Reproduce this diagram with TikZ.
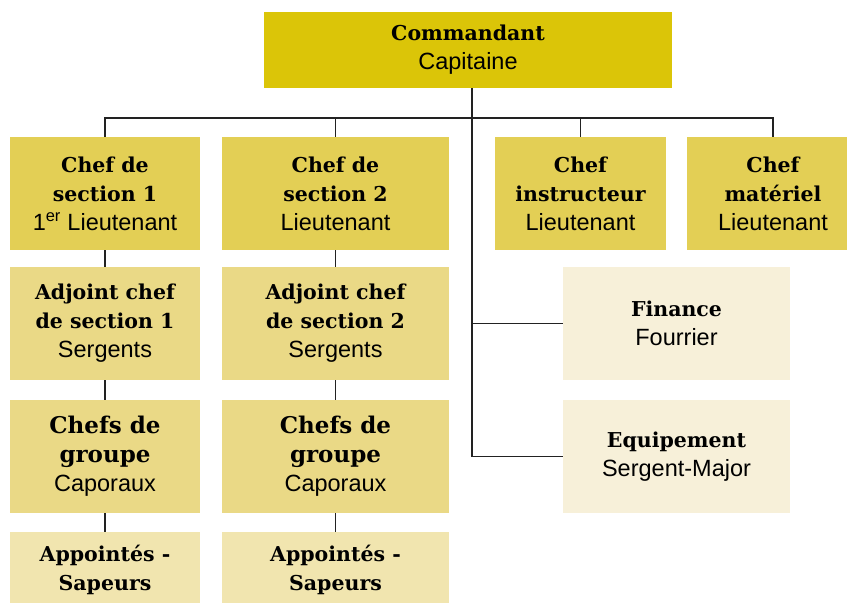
\documentclass[tikz,border=0pt]{standalone}
\usepackage{fontspec}
\setmainfont{Liberation Sans}
\newfontfamily\hdfont{DejaVu Serif}
\newcommand\hd[1]{{\hdfont\bfseries\fontsize{20.5}{29}\selectfont #1}}
\newcommand\hdl[1]{{\hdfont\bfseries\fontsize{23}{33}\selectfont #1}}
\definecolor{cA}{HTML}{DBC508}
\definecolor{cB}{HTML}{E3CF55}
\definecolor{cC}{HTML}{EAD986}
\definecolor{cD}{HTML}{F1E5AF}
\definecolor{cE}{HTML}{F7F0D9}
\definecolor{ln}{HTML}{222222}
\tikzset{
  box/.style={rectangle, inner sep=0pt, align=center, text=black,
    font=\fontsize{23.5}{29}\selectfont},
  conn/.style={draw=ln, line width=1.4pt}
}
\begin{document}
\begin{tikzpicture}[x=1pt,y=-1pt]
\useasboundingbox (0,0) rectangle (847,603);
\node[box, fill=cA, minimum width=408, minimum height=76] (cmd) at (468,50) {\hd{Commandant}\\Capitaine};
\node[box, fill=cB, minimum width=190, minimum height=113] (s1) at (105,193.5) {\hd{Chef de}\\\hd{section 1}\\1\textsuperscript{er} Lieutenant};
\node[box, fill=cB, minimum width=227, minimum height=113] (s2) at (335.5,193.5) {\hd{Chef de}\\\hd{section 2}\\Lieutenant};
\node[box, fill=cB, minimum width=171, minimum height=113] (ins) at (580.5,193.5) {\hd{Chef}\\\hd{instructeur}\\Lieutenant};
\node[box, fill=cB, minimum width=172, minimum height=113] (mat) at (773,193.5) {\hd{Chef}\\\hd{matériel}\\Lieutenant};
\node[box, fill=cC, minimum width=190, minimum height=113] (a1) at (105,323.5) {\hd{Adjoint chef}\\\hd{de section 1}\\Sergents};
\node[box, fill=cC, minimum width=227, minimum height=113] (a2) at (335.5,323.5) {\hd{Adjoint chef}\\\hd{de section 2}\\Sergents};
\node[box, fill=cC, minimum width=190, minimum height=113] (g1) at (105,456.5) {\hdl{Chefs de}\\\hdl{groupe}\\Caporaux};
\node[box, fill=cC, minimum width=227, minimum height=113] (g2) at (335.5,456.5) {\hdl{Chefs de}\\\hdl{groupe}\\Caporaux};
\node[box, fill=cD, minimum width=190, minimum height=76] (p1) at (105,570) {\hd{Appointés -}\\\hd{Sapeurs}};
\node[box, fill=cD, minimum width=227, minimum height=76] (p2) at (335.5,570) {\hd{Appointés -}\\\hd{Sapeurs}};
\node[box, fill=cE, minimum width=227, minimum height=113] (fin) at (676.5,323.5) {\hd{Finance}\\Fourrier};
\node[box, fill=cE, minimum width=227, minimum height=113] (equ) at (676.5,456.5) {\hd{Equipement}\\Sergent-Major};
\coordinate (hub) at (472,118);
\draw[conn] (hub |- cmd.south) -- (hub);
\draw[conn] (hub) -| (s1.north);
\draw[conn] (hub) -| (s2.north);
\draw[conn] (hub) -| (ins.north);
\draw[conn] (hub) -| (mat.north);
\draw[conn] (hub) |- (fin.west);
\draw[conn] (hub) |- (equ.west);
\draw[conn] (s1) -- (a1);
\draw[conn] (a1) -- (g1);
\draw[conn] (g1) -- (p1);
\draw[conn] (s2) -- (a2);
\draw[conn] (a2) -- (g2);
\draw[conn] (g2) -- (p2);
\end{tikzpicture}
\end{document}
